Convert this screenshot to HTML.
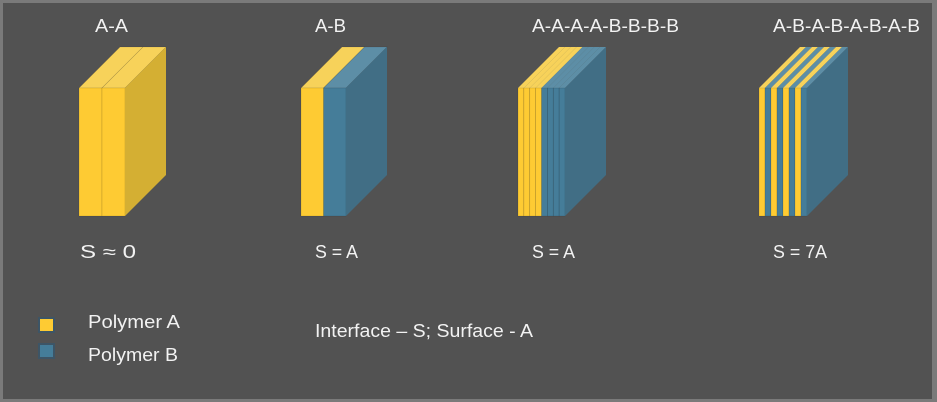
<!DOCTYPE html>
<html><head><meta charset="utf-8"><style>
html,body{margin:0;padding:0;background:#525252;}
svg{display:block}
text{font-family:"Liberation Sans",sans-serif;font-size:18px;fill:#f2f2f2}
</style></head><body>
<svg width="937" height="402" viewBox="0 0 937 402" xmlns="http://www.w3.org/2000/svg">
<rect x="0" y="0" width="937" height="402" fill="#7a7a7a"/>
<rect x="3" y="3" width="929" height="396" fill="#525252"/>
<g id="g"></g>
<text x="95" y="32" textLength="33" lengthAdjust="spacingAndGlyphs">A-A</text>
<text x="315" y="32" textLength="31" lengthAdjust="spacingAndGlyphs">A-B</text>
<text x="532" y="32" textLength="147" lengthAdjust="spacingAndGlyphs">A-A-A-A-B-B-B-B</text>
<text x="773" y="32" textLength="147" lengthAdjust="spacingAndGlyphs">A-B-A-B-A-B-A-B</text>
<text x="80" y="258" textLength="56" lengthAdjust="spacingAndGlyphs">S ≈ 0</text>
<text x="315" y="258" textLength="43" lengthAdjust="spacingAndGlyphs">S = A</text>
<text x="532" y="258" textLength="43" lengthAdjust="spacingAndGlyphs">S = A</text>
<text x="773" y="258" textLength="54" lengthAdjust="spacingAndGlyphs">S = 7A</text>
<text x="88" y="328" textLength="92" lengthAdjust="spacingAndGlyphs">Polymer A</text>
<text x="88" y="361" textLength="90" lengthAdjust="spacingAndGlyphs">Polymer B</text>
<text x="315" y="337" textLength="218" lengthAdjust="spacingAndGlyphs">Interface – S; Surface - A</text>
<rect x="39" y="318" width="15" height="14" fill="#fecb33" stroke="#3d5566" stroke-width="2"/>
<rect x="39" y="344" width="15" height="14" fill="#457d99" stroke="#3d5566" stroke-width="2"/>
</svg>
<script>
const g=document.getElementById('g');const ns="http://www.w3.org/2000/svg";
const C={A:{f:"#fecb33",t:"#f7d25a",s:"#d4af33"},B:{f:"#457d99",t:"#5d8ea6",s:"#416e85"}};
function poly(pts,fill,stroke){const p=document.createElementNS(ns,'polygon');p.setAttribute('points',pts.map(a=>a.join(',')).join(' '));p.setAttribute('fill',fill);if(stroke){p.setAttribute('stroke',stroke);p.setAttribute('stroke-width','0.6');}g.appendChild(p);}
function block(x0,w,seq){const d=41,yt=88,yb=216;const n=seq.length;const lw=w/n;
 for(let i=0;i<n;i++){const a=x0+i*lw,b=a+lw,c=C[seq[i]];
  poly([[a,yt],[a+d,yt-d],[b+d,yt-d],[b,yt]],c.t,n<=2?'rgba(0,0,0,0.15)':null);
  poly([[a,yt],[b,yt],[b,yb],[a,yb]],c.f,'rgba(0,0,0,0.18)');}
 const e=x0+w,c=C[seq[n-1]];
 poly([[e,yt],[e+d,yt-d],[e+d,yb-d],[e,yb]],c.s);}
block(79,46,"AA");block(301,45,"AB");block(518,47,"AAAABBBB");block(759,48,"ABABABAB");
</script>
</body></html>
